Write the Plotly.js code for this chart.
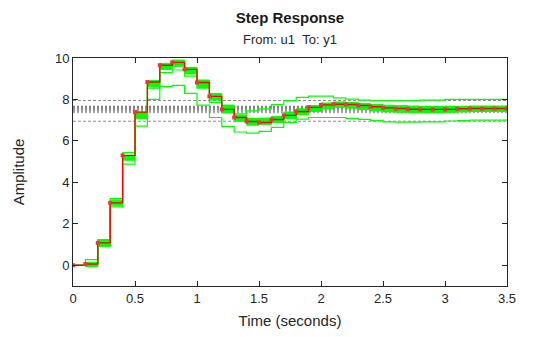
<!DOCTYPE html>
<html><head><meta charset="utf-8">
<script src="https://cdn.plot.ly/plotly-3.0.1.min.js"></script>
<style>html,body{margin:0;padding:0;background:#fff;} #chart{width:560px;height:337px;}</style>
</head><body><div id="chart"></div>
<script>
const time = [0,0.1,0.2,0.3,0.4,0.5,0.6,0.7,0.8,0.9,1.0,1.1,1.2,1.3,1.4,1.5,1.6,1.7,1.8,1.9,2.0,2.1,2.2,2.3,2.4,2.5,2.6,2.7,2.8,2.9,3.0,3.1,3.2,3.3,3.4,3.5];
const nominal = [0,0.06,1.08,3.01,5.30,7.39,8.84,9.65,9.79,9.45,8.82,8.15,7.52,7.13,6.94,6.89,7.03,7.23,7.42,7.62,7.74,7.77,7.76,7.71,7.65,7.60,7.56,7.53,7.52,7.52,7.52,7.55,7.56,7.56,7.56,7.56];
const bandLow = [0,-0.06,0.92,2.90,5.07,7.08,8.62,9.45,9.60,9.23,8.58,7.97,7.41,6.95,6.76,6.80,6.89,7.07,7.26,7.42,7.55,7.62,7.58,7.52,7.46,7.40,7.38,7.36,7.36,7.36,7.38,7.40,7.42,7.42,7.42,7.42];
const bandHigh = [0,0.14,1.24,3.14,5.30,7.39,8.92,9.74,9.90,9.55,8.94,8.29,7.73,7.25,7.08,7.10,7.18,7.39,7.55,7.71,7.83,7.88,7.85,7.80,7.76,7.72,7.70,7.68,7.66,7.66,7.66,7.66,7.68,7.68,7.68,7.68];
const sampleHigh = [0,0.27,1.24,3.22,5.43,7.25,8.55,9.29,9.42,9.13,8.55,7.86,7.36,7.30,7.45,7.55,7.75,7.94,8.10,8.16,8.16,8.08,8.02,7.97,7.94,7.94,7.94,7.94,7.97,7.97,8.00,8.00,8.00,8.00,8.00,8.00];
const sampleLow = [0,0.0,0.92,2.82,4.88,6.71,8.00,8.62,8.68,8.29,7.73,7.13,6.70,6.43,6.38,6.46,6.65,6.89,7.05,7.13,7.13,7.13,7.09,7.04,6.99,6.92,6.91,6.91,6.92,6.92,6.96,6.98,7.00,7.00,7.00,7.00];
const finalThin = [6.95, 7.95];
const finalBand = [7.37,7.42,7.47,7.52,7.57,7.62,7.66];
const finalBandColors = ['#ababab','#a5a5a5','#9c9c9c','#939393','#8a8a8a','#858585','#808080'];

const tEnds = [time[0], time[time.length-1]];
const traces = [];
finalThin.forEach(v => traces.push({x:tEnds, y:[v,v], mode:'lines', line:{color:'#8c8c8c', width:1, dash:'3px,2px'}, hoverinfo:'skip', showlegend:false}));
finalBand.forEach((v,i) => traces.push({x:tEnds, y:[v,v], mode:'lines', line:{color:finalBandColors[i], width:1.6, dash:'2px,2px'}, hoverinfo:'skip', showlegend:false}));
traces.push({x:time, y:bandLow, mode:'lines', line:{color:'#00ff00', width:1, shape:'hv'}, showlegend:false});
traces.push({x:time, y:bandHigh, mode:'lines', fill:'tonexty', fillcolor:'#00ff00', line:{color:'#00ff00', width:1, shape:'hv'}, showlegend:false});
traces.push({x:time, y:sampleHigh, mode:'lines', line:{color:'#00ff00', width:1.2, shape:'hv'}, showlegend:false});
traces.push({x:time, y:sampleLow, mode:'lines', line:{color:'#00ff00', width:1.2, shape:'hv'}, showlegend:false});
traces.push({x:time, y:nominal, mode:'lines+markers', line:{color:'#ff0000', width:1.4, shape:'hv'}, marker:{symbol:'square', size:4, color:'#ee3344'}, showlegend:false});

const fontFam = 'Liberation Sans, Arial, Helvetica, sans-serif';
const ink = '#262626';
const layout = {
  width:560, height:337,
  margin:{l:73, r:53, t:58, b:51},
  paper_bgcolor:'#ffffff', plot_bgcolor:'#ffffff',
  font:{family:fontFam, color:ink, size:13},
  title:{text:'<b>Step Response</b>', x:0.5, xref:'paper', xanchor:'center', y:1-18/337, yref:'container', yanchor:'middle', font:{size:15, color:'#1a1a1a', family:fontFam}},
  annotations:[{text:'From: u1\u00a0\u00a0To: y1', xref:'paper', yref:'paper', x:0.5, y:1+(58-40)/228, xanchor:'center', yanchor:'middle', showarrow:false, font:{size:13, color:ink, family:fontFam}}],
  xaxis:{range:[0,3.5], dtick:0.5, tick0:0, ticks:'inside', ticklen:5, tickcolor:ink, showline:true, linecolor:ink, linewidth:1, mirror:'ticks', showgrid:false, zeroline:false, tickfont:{size:13, color:ink}, title:{text:'Time (seconds)', font:{size:15, color:ink}, standoff:10}, automargin:false},
  yaxis:{range:[-1,10], dtick:2, tick0:0, ticks:'inside', ticklen:5, tickcolor:ink, showline:true, linecolor:ink, linewidth:1, mirror:'ticks', showgrid:false, zeroline:false, tickfont:{size:13, color:ink}, title:{text:'Amplitude', font:{size:15, color:ink}, standoff:26}, automargin:false},
  showlegend:false
};
Plotly.newPlot('chart', traces, layout, {staticPlot:true, displayModeBar:false});
</script>
</body></html>
